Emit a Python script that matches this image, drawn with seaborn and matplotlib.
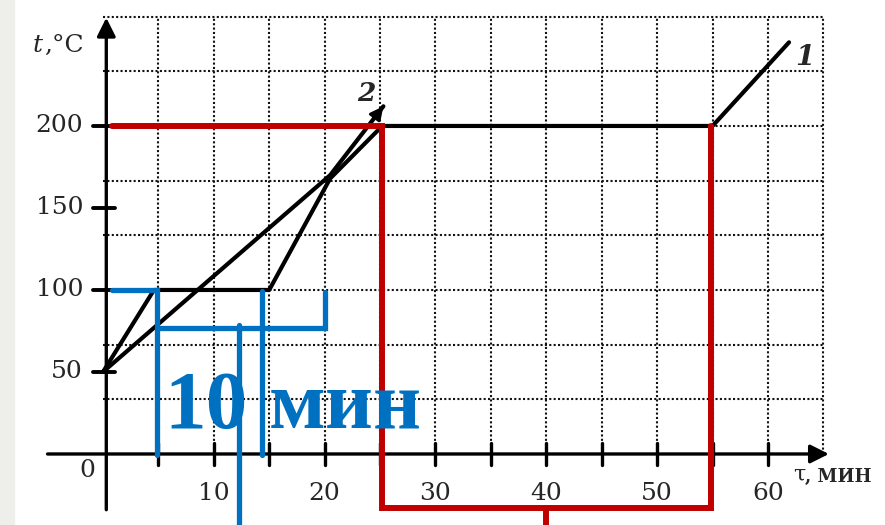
import matplotlib
matplotlib.use("Agg")
from matplotlib import pyplot as plt
from matplotlib.patches import Rectangle
import pandas as pd
import seaborn as sns

# curve 1: heating, plateau at 100, heating, plateau at 200, heating
curve1_time = [0, 4.6, 15, 20.5, 25.2, 55.0, 61.9]
curve1_temp = [50, 100, 100, 168, 200, 200, 251]
# curve 2: heating without plateau
curve2_time = [0, 20.5, 25.3]
curve2_temp = [50, 170, 212]

# axis ticks
x_tick_pos = [5, 10, 15, 20, 25, 30, 35, 40, 45, 50, 55, 60]
x_tick_labels = ["", "10", "", "20", "", "30", "", "40", "", "50", "", "60"]
y_tick_pos = [50, 100, 150, 200]
y_tick_labels = ["50", "100", "150", "200"]

# dotted grid of the sheet
grid_x = [5, 10, 15, 20, 25, 30, 35, 40, 45, 50, 55, 60, 65]
grid_y = [33.33, 66.67, 100, 133.33, 166.67, 200, 233.33, 266.67]

# red annotation (plateau 25..55 min)
red_time = [0.8, 25.2, 25.2, 54.9, 54.9]
red_temp = [200, 200, -33, -33, 200]
red_stub_time = [40, 40]
red_stub_temp = [-33, -46]

# blue annotation (plateau 5..15 min)
blue_paths = [
    ([0.8, 4.9, 4.9], [100, 100, -0.5]),
    ([4.9, 20.0, 20.0], [77, 77, 99]),
    ([14.35, 14.35], [99.5, -0.5]),
    ([12.27, 12.27], [78.5, -46]),
]

RED = "#C00000"
BLUE = "#0070C0"

sns.set_style("white")
plt.rcParams["font.family"] = ["DejaVu Serif"]

fig = plt.figure(figsize=(8.85, 5.25), dpi=100)
fig.patches.append(Rectangle((0, 0), 14 / 885, 1, transform=fig.transFigure,
                             color="#EEEFEA", zorder=0))
ax = fig.add_axes([0, 0, 1, 1])
ax.set_xlim(-9.29, 70.56)
ax.set_ylim(-43.3, 276.8)
ax.axis("off")
ax.patch.set_alpha(0)

# grid
ax.vlines(grid_x, 0, grid_y[-1], colors="#111111", lw=1.5, linestyles=(0, (1, 1.1)), zorder=1)
ax.hlines(grid_y, 0, grid_x[-1], colors="#111111", lw=1.5, linestyles=(0, (1, 1.1)), zorder=1)

# axes with arrows
ax.annotate("", xy=(65.5, 0), xytext=(-5, 0),
            arrowprops=dict(arrowstyle="-|>", color="k", lw=2.4, mutation_scale=28, shrinkA=0, shrinkB=0))
ax.annotate("", xy=(0.3, 266), xytext=(0.3, -34),
            arrowprops=dict(arrowstyle="-|>", color="k", lw=2.4, mutation_scale=28, shrinkA=0, shrinkB=0))

for xt, lab in zip(x_tick_pos, x_tick_labels):
    ax.plot([xt, xt], [-6.5, 6.5], color="k", lw=2.4, zorder=2)
    if lab:
        ax.text(xt, -24, lab, ha="center", va="center", fontsize=18)
ax.text(-1.4, -10, "0", ha="center", va="center", fontsize=18)
for yt, lab in zip(y_tick_pos, y_tick_labels):
    ax.plot([-0.9, 1.1], [yt, yt], color="k", lw=2.8, zorder=2)
    ax.text(-1.8, yt, lab, ha="right", va="center", fontsize=18)

ax.text(-5.9, 249, "t", ha="center", va="center", fontsize=18, style="italic")
ax.text(-5.3, 249, ",°C", ha="left", va="center", fontsize=18)
ax.text(62.8, -13, "τ", ha="center", va="center", fontsize=16)
ax.text(63.3, -14, ", МИН", ha="left", va="center", fontsize=13, fontweight="bold")

# curves
df1 = pd.DataFrame({"time": curve1_time, "temp": curve1_temp})
df2 = pd.DataFrame({"time": curve2_time, "temp": curve2_temp})
sns.lineplot(data=df1, x="time", y="temp", ax=ax, color="k", lw=3.0, sort=False,
             estimator=None, zorder=3)
sns.lineplot(data=df2, x="time", y="temp", ax=ax, color="k", lw=3.0, sort=False,
             estimator=None, zorder=3)
dt = curve2_time[-1] - curve2_time[-2]
dT = curve2_temp[-1] - curve2_temp[-2]
ax.annotate("", xy=(curve2_time[-1], curve2_temp[-1]),
            xytext=(curve2_time[-1] - 0.3 * dt, curve2_temp[-1] - 0.3 * dT),
            arrowprops=dict(arrowstyle="-|>", color="k", lw=2, mutation_scale=20, shrinkA=0, shrinkB=0),
            zorder=3)
ax.text(63.3, 242, "1", ha="center", va="center", fontsize=20, style="italic", fontweight="bold")
ax.text(23.8, 220, "2", ha="center", va="center", fontsize=19, style="italic", fontweight="bold")

# red annotation
ax.plot(red_time, red_temp, color=RED, lw=4.3, zorder=4, solid_joinstyle="miter")
ax.plot(red_stub_time, red_stub_temp, color=RED, lw=4.3, zorder=4)

# blue annotation
for bt, bT in blue_paths:
    ax.plot(bt, bT, color=BLUE, lw=3.8, zorder=5, solid_joinstyle="miter")
ax.text(5.55, 16, "10", ha="left", va="baseline", fontsize=60, fontweight="bold",
        color=BLUE, family=["Liberation Serif"], zorder=6)
ax.text(15.0, 16, "мин", ha="left", va="baseline", fontsize=60, fontweight="bold",
        color=BLUE, family=["Liberation Serif"], zorder=6)

fig.savefig("out.png", dpi=100)
